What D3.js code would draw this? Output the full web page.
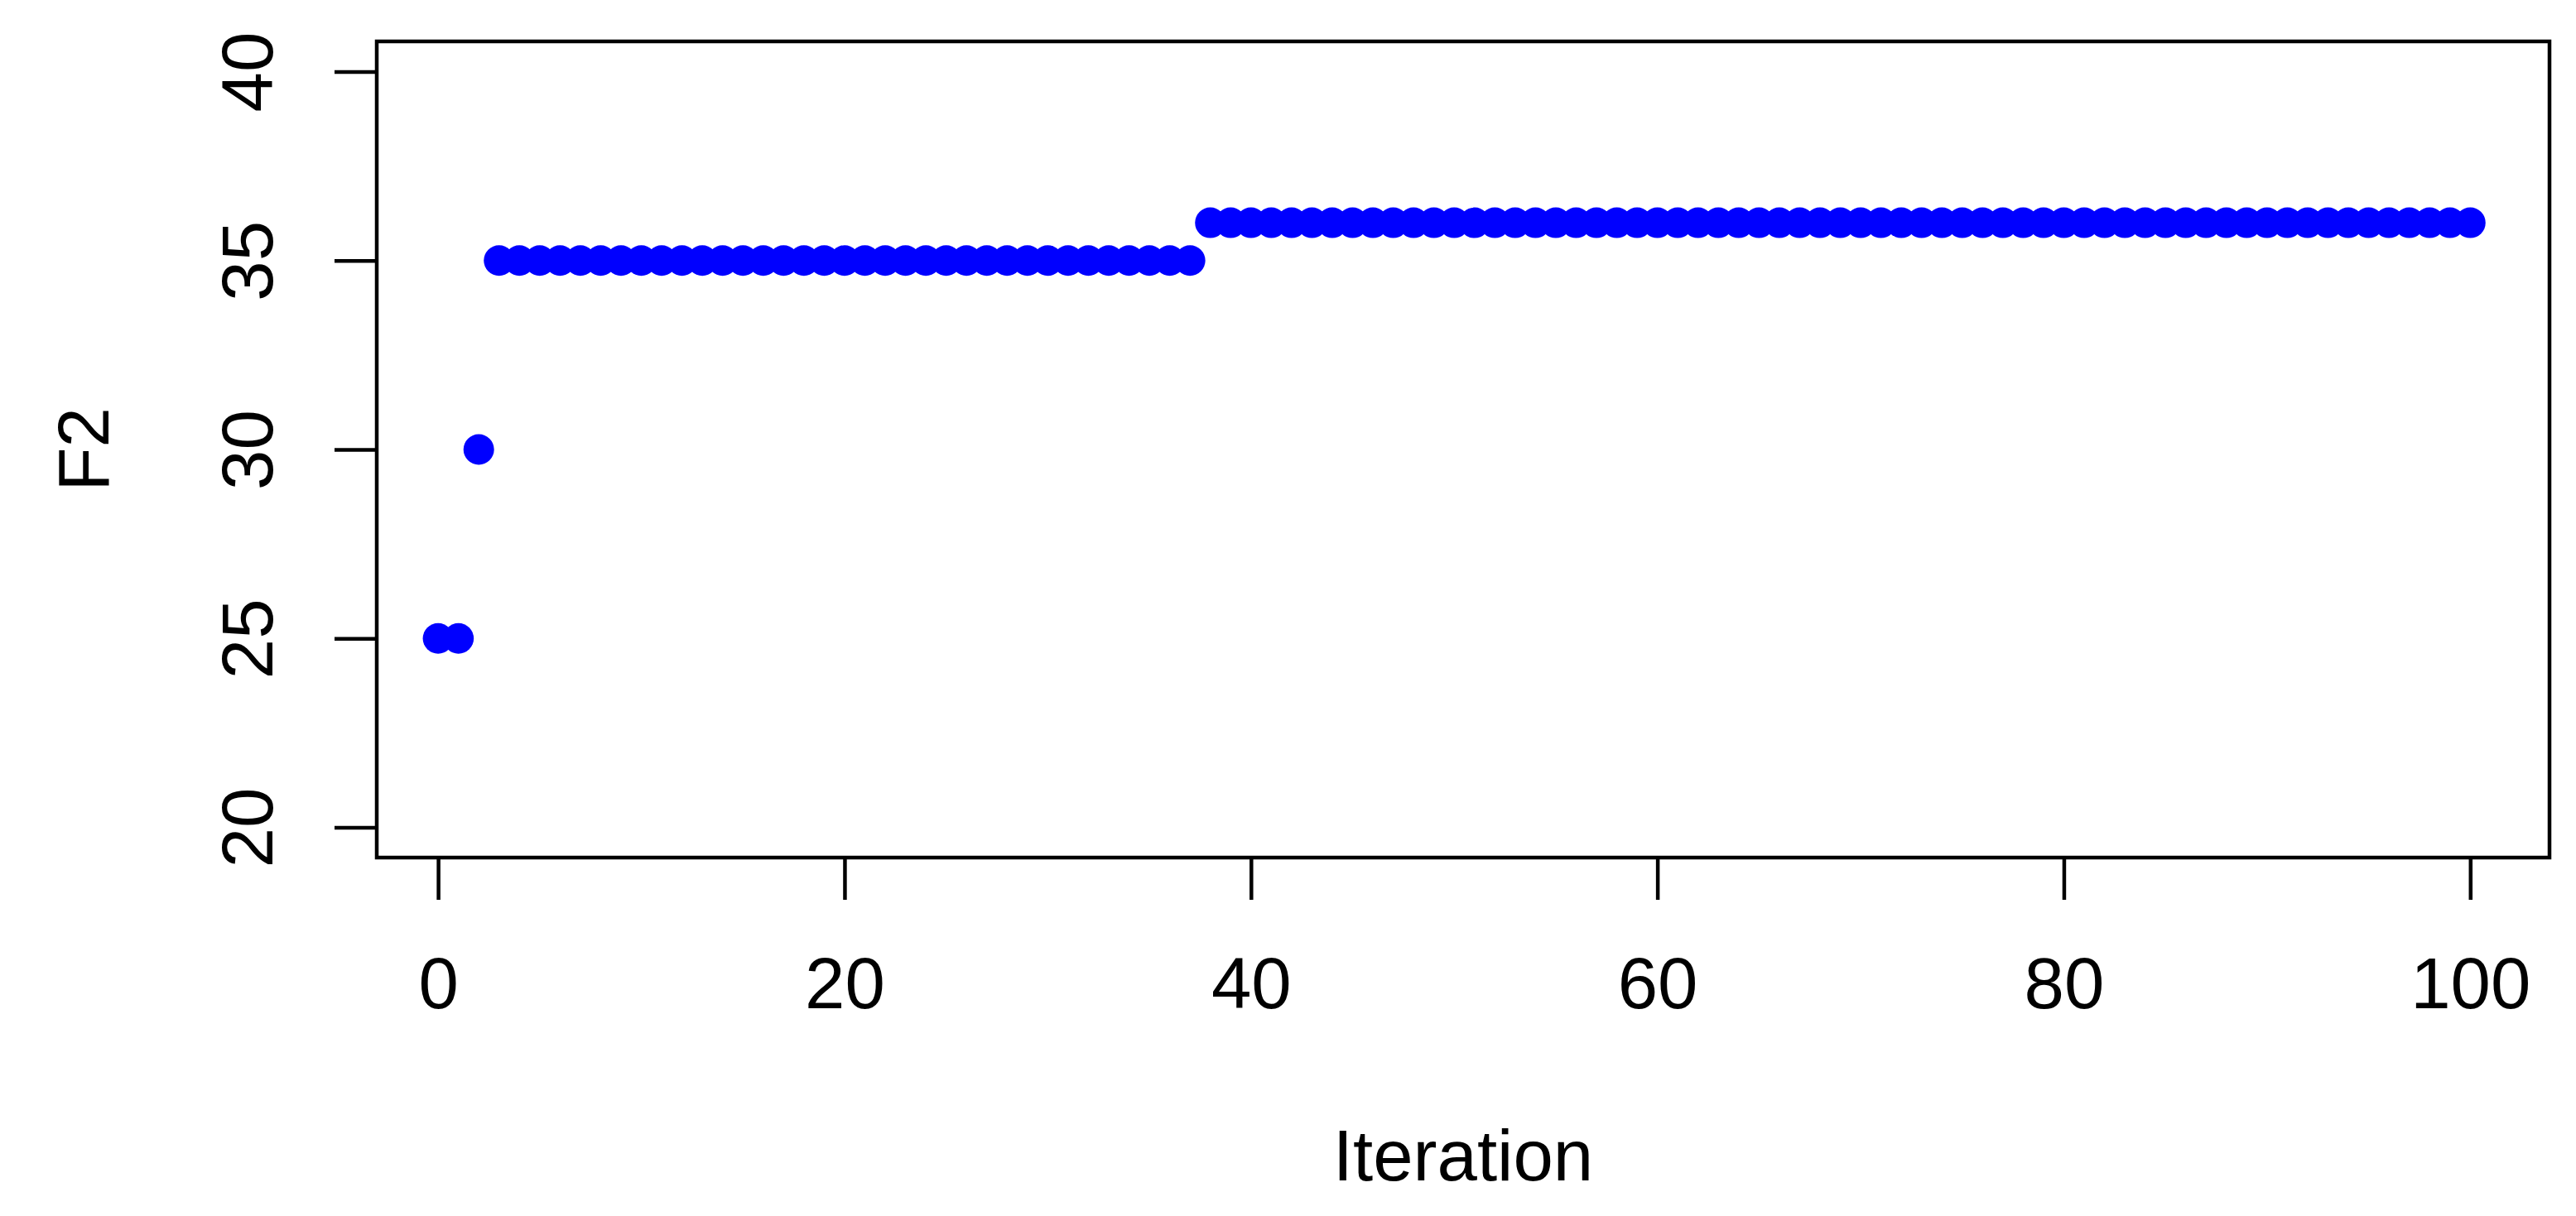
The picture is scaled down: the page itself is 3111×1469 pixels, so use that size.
<!DOCTYPE html>
<html><head><meta charset="utf-8">
<script src="https://cdn.jsdelivr.net/npm/d3@7"></script>
<style>html,body{margin:0;padding:0;background:#fff;}svg{display:block;}</style>
</head><body>
<script>
const iterations = d3.range(0, 101);
const f2Values = [25, 25, 30].concat(d3.range(3, 38).map(() => 35), d3.range(38, 101).map(() => 36));
const xTicks = [0, 20, 40, 60, 80, 100];
const yTicks = [20, 25, 30, 35, 40];
const xLabel = "Iteration";
const yLabel = "F2";

const W = 3111, H = 1469;
const box = {left: 455, right: 3079, top: 50, bottom: 1036};
const svg = d3.select("body").append("svg").attr("width", W).attr("height", H);
const font = "'Liberation Sans', Arial, sans-serif";
const fs = 87;

const x = d3.scaleLinear().domain([-3.02, 103.9]).range([box.left, box.right]);
const y = d3.scaleLinear().domain([19.2, 40.8]).range([box.bottom, box.top]);

// points
svg.append("g").selectAll("circle").data(iterations).join("circle")
  .attr("cx", (d, i) => x(d)).attr("cy", (d, i) => y(f2Values[i]))
  .attr("r", 18.5).attr("fill", "#0000ff");

// box
svg.append("rect").attr("x", box.left).attr("y", box.top)
  .attr("width", box.right - box.left).attr("height", box.bottom - box.top)
  .attr("fill", "none").attr("stroke", "#000").attr("stroke-width", 4.5);

// x axis
const xa = d3.axisBottom(x).tickValues(xTicks).tickSize(51).tickPadding(70).tickFormat(d3.format("d"));
const gx = svg.append("g").attr("transform", `translate(0,${box.bottom})`).call(xa);
gx.select(".domain").remove();
gx.selectAll("line").attr("stroke", "#000").attr("stroke-width", 4.5);
gx.selectAll("text").attr("font-family", font).attr("font-size", fs).attr("fill", "#000")
  .attr("dy", null).attr("y", 182).attr("dominant-baseline", "auto");

// y axis
const ya = d3.axisLeft(y).tickValues(yTicks).tickSize(51).tickFormat(d3.format("d"));
const gy = svg.append("g").attr("transform", `translate(${box.left},0)`).call(ya);
gy.select(".domain").remove();
gy.selectAll("line").attr("stroke", "#000").attr("stroke-width", 4.5);
gy.selectAll("text").attr("font-family", font).attr("font-size", fs).attr("fill", "#000")
  .attr("x", null).attr("dy", null).attr("text-anchor", "middle")
  .attr("transform", "translate(-126,0) rotate(-90)");

// axis labels
svg.append("text").attr("x", (box.left + box.right) / 2).attr("y", 1426)
  .attr("text-anchor", "middle").attr("font-family", font).attr("font-size", fs).text(xLabel);
svg.append("text").attr("transform", `translate(131,${(box.top + box.bottom) / 2}) rotate(-90)`)
  .attr("text-anchor", "middle").attr("font-family", font).attr("font-size", fs).text(yLabel);
</script>
</body></html>
